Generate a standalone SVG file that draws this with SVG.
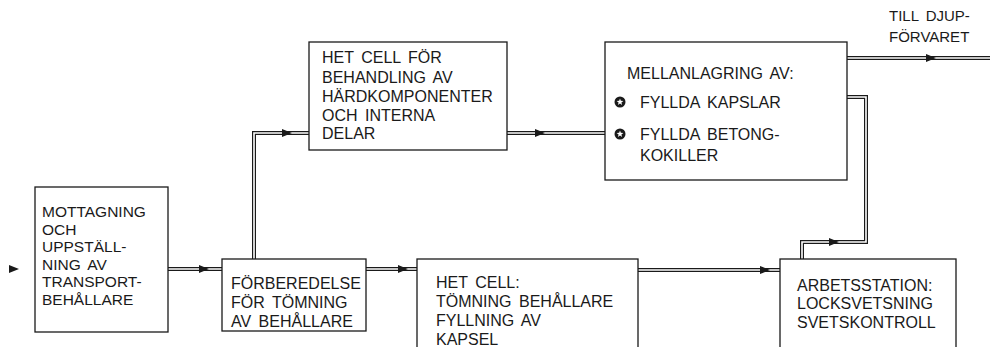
<svg xmlns="http://www.w3.org/2000/svg" xmlns:xlink="http://www.w3.org/1999/xlink" width="990" height="347" viewBox="0 0 990 347">
<style>
.box{fill:#fff;stroke:#1a1a1a;stroke-width:1.3}
.t{font-family:"Liberation Sans",Arial,sans-serif;font-size:16px;fill:#1a1a1a;word-spacing:3px}
.s{font-size:15.5px}
.lb{font-size:15px}
.o{fill:none;stroke:#1a1a1a;stroke-width:4}
.i{fill:none;stroke:#fff;stroke-width:1.6}
.ah{fill:#1a1a1a}
</style>
<defs>
<path id="pA" d="M168,269 H222"/>
<path id="pB" d="M366,269 H417"/>
<path id="pC" d="M254,259 V133 H309"/>
<path id="pD" d="M507,133 H605"/>
<path id="pE" d="M638,270 H780"/>
<path id="pF" d="M802,259 V242 H866 V97 H847"/>
<path id="pG" d="M847,58 H992"/>
<polygon id="ar" points="0,0 -10,-4 -10,4"/>
<g id="bul"><circle r="5.5" fill="#1a1a1a"/><polygon fill="#fff" points="0,-3.6 0.85,-1.2 3.4,-1.1 1.4,0.5 2.1,2.9 0,1.5 -2.1,2.9 -1.4,0.5 -3.4,-1.1 -0.85,-1.2"/></g>
</defs>
<g id="connectors">
<use xlink:href="#pA" class="o"/><use xlink:href="#pA" class="i"/>
<use xlink:href="#pB" class="o"/><use xlink:href="#pB" class="i"/>
<use xlink:href="#pC" class="o"/><use xlink:href="#pC" class="i"/>
<use xlink:href="#pD" class="o"/><use xlink:href="#pD" class="i"/>
<use xlink:href="#pE" class="o"/><use xlink:href="#pE" class="i"/>
<use xlink:href="#pF" class="o"/><use xlink:href="#pF" class="i"/>
<use xlink:href="#pG" class="o"/><use xlink:href="#pG" class="i"/>
<use xlink:href="#ar" class="ah" x="19" y="269"/>
<use xlink:href="#ar" class="ah" x="209" y="269"/>
<use xlink:href="#ar" class="ah" x="408" y="269"/>
<use xlink:href="#ar" class="ah" x="292" y="133"/>
<use xlink:href="#ar" class="ah" x="545" y="133"/>
<use xlink:href="#ar" class="ah" x="770" y="270"/>
<use xlink:href="#ar" class="ah" x="839" y="242"/>
<use xlink:href="#ar" class="ah" x="936" y="58"/>
</g>
<g id="n-mottagning">
<rect class="box" x="35" y="187" width="133" height="145"/>
<text class="t s"><tspan x="42" y="217">MOTTAGNING</tspan><tspan x="42" y="234.5">OCH</tspan><tspan x="42" y="252">UPPSTÄLL-</tspan><tspan x="42" y="269.5">NING AV</tspan><tspan x="42" y="287">TRANSPORT-</tspan><tspan x="42" y="304.5">BEHÅLLARE</tspan></text>
</g>
<g id="n-forberedelse">
<rect class="box" x="222" y="259" width="144" height="72"/>
<text class="t"><tspan x="231" y="289">FÖRBEREDELSE</tspan><tspan x="231" y="308">FÖR TÖMNING</tspan><tspan x="231" y="327">AV BEHÅLLARE</tspan></text>
</g>
<g id="n-hetcell">
<rect class="box" x="417" y="259" width="221" height="95"/>
<text class="t"><tspan x="436" y="288">HET CELL:</tspan><tspan x="436" y="307">TÖMNING BEHÅLLARE</tspan><tspan x="436" y="326">FYLLNING AV</tspan><tspan x="436" y="345">KAPSEL</tspan></text>
</g>
<g id="n-arbetsstation">
<rect class="box" x="780" y="259" width="176" height="95"/>
<text class="t"><tspan x="797" y="291">ARBETSSTATION:</tspan><tspan x="797" y="309">LOCKSVETSNING</tspan><tspan x="797" y="328">SVETSKONTROLL</tspan></text>
</g>
<g id="n-hetcellfor">
<rect class="box" x="309" y="42" width="198" height="108"/>
<text class="t"><tspan x="322" y="63">HET CELL FÖR</tspan><tspan x="322" y="83">BEHANDLING AV</tspan><tspan x="322" y="102">HÄRDKOMPONENTER</tspan><tspan x="322" y="121">OCH INTERNA</tspan><tspan x="322" y="139">DELAR</tspan></text>
</g>
<g id="n-mellanlagring">
<rect class="box" x="605" y="42" width="242" height="138"/>
<text class="t"><tspan x="627" y="79">MELLANLAGRING AV:</tspan><tspan x="640" y="108">FYLLDA KAPSLAR</tspan><tspan x="640" y="140">FYLLDA BETONG-</tspan><tspan x="640" y="161">KOKILLER</tspan></text>
<use xlink:href="#bul" x="620" y="102"/>
<use xlink:href="#bul" x="620" y="134"/>
</g>
<g id="label-till">
<text class="t lb"><tspan x="889" y="21">TILL DJUP-</tspan><tspan x="889" y="42">FÖRVARET</tspan></text>
</g>
</svg>
